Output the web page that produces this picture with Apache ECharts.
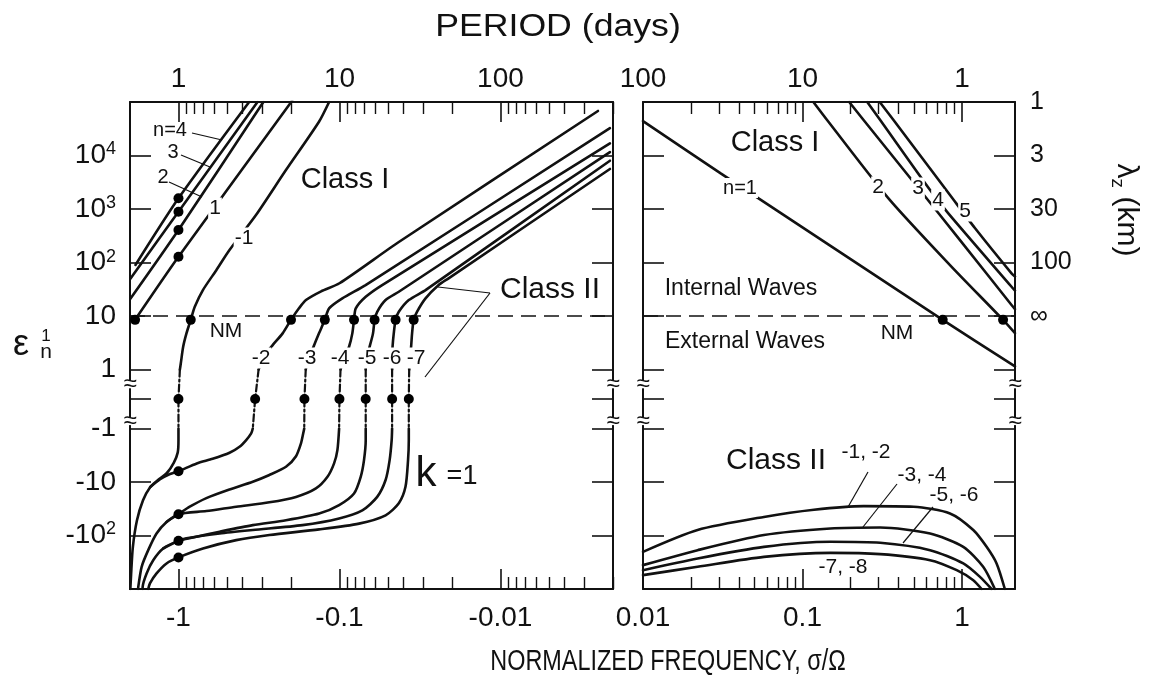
<!DOCTYPE html>
<html>
<head>
<meta charset="utf-8">
<script src="https://cdn.jsdelivr.net/npm/echarts@6.0.0/dist/echarts.min.js"></script>
<style>
  html, body { margin: 0; padding: 0; background: #fff; }
  #chart { width: 1161px; height: 690px; }
</style>
</head>
<body>
<div id="chart"></div>
<script>
// ---------------------------------------------------------------
// Hough-mode eigenvalues eps_n^1 (zonal wavenumber k = 1) against
// normalized frequency sigma/Omega. Points are [sigma/Omega, eps].
// ---------------------------------------------------------------

// axis extents
const negSigmaRange = [-2, -0.002];
const posSigmaRange = [0.01, 2.15];
const epsRange = [-1000, 1e5];
const nmLevel = 10;          // dashed line: internal / external waves
const bandBreaks = [0.5, -0.75];

// tick values and labels
const negDecades = [-1, -0.1, -0.01];
const negDecadeLabels = ['-1', '-0.1', '-0.01'];
const negPeriodLabels = ['1', '10', '100'];
const posDecades = [0.01, 0.1, 1];
const posDecadeLabels = ['0.01', '0.1', '1'];
const posPeriodLabels = ['100', '10', '1'];
const minorMultipliers = [2, 3, 4, 5, 6, 7, 8, 9];
const negMinorDecades = [0.1, 0.01, 0.001];
const posMinorDecades = [0.01, 0.1];
const epsTicks = [1e4, 1e3, 100, 10, 1, 0, -1, -10, -100];
const epsTickLabels = ['10{s|4}', '10{s|3}', '10{s|2}', '10', '1', '', '-1', '-10', '-10{s|2}'];
const lambdaEps = [1e5, 1e4, 1e3, 100, 10];
const lambdaLabels = ['1', '3', '30', '100', '\u221e'];

// ---- negative frequencies: Class I ----
const negN1 = [[-1.86, 8.5], [-1.0, 128], [-0.202, 95000], [-0.19, 130000]];
const negN2 = [[-1.99, 21], [-1.0, 405], [-0.297, 100000]];
const negN3 = [[-1.99, 50], [-1.0, 890], [-0.323, 100000]];
const negN4 = [[-1.85, 90], [-1.0, 1585], [-0.364, 100000]];

// ---- negative frequencies: n = -1 ... -7 (upper part, band through eps = 0, lower part) ----
const negM1Upper = [[-0.98, 1.0], [-0.967, 1.31], [-0.935, 2.67], [-0.892, 4.75], [-0.839, 8.5], [-0.792, 14.9], [-0.705, 30.6], [-0.582, 72], [-0.482, 171], [-0.33, 772], [-0.215, 5350], [-0.134, 42800], [-0.116, 100000]];
const negM1Band = [[-0.98, 1], [-0.99, 0.5], [-1.0, 0], [-1.0, -1]];
const negM1Lower = [[-1.0, -1], [-1.0, -1.65], [-1.01, -2.8], [-1.07, -4.4], [-1.18, -6.8], [-1.34, -9.2], [-1.5, -12.5], [-1.66, -22], [-1.81, -52], [-1.92, -165], [-1.97, -550], [-1.99, -1000]];

const negM2Upper = [[-0.318, 1.0], [-0.286, 2.0], [-0.26, 2.87], [-0.2254, 4.75], [-0.2, 8.5], [-0.178, 14.1], [-0.1615, 19.9], [-0.13, 29], [-0.1, 41], [-0.0428, 242], [-0.00248, 68000]];
const negM2Band = [[-0.318, 1], [-0.334, 0], [-0.3455, -1]];
const negM2Lower = [[-0.3455, -1], [-0.3535, -1.24], [-0.3796, -1.65], [-0.4175, -2.2], [-0.4816, -2.85], [-0.6133, -3.7], [-0.77, -4.5], [-1.0, -6.3], [-1.13, -7.1], [-1.3, -8.9], [-1.5, -12.5]];

const negM3Upper = [[-0.162, 1.0], [-0.1585, 1.32], [-0.1435, 2.87], [-0.134, 4.75], [-0.1233, 8.5], [-0.116, 13.9], [-0.096, 21.4], [-0.0688, 38], [-0.00209, 32400]];
const negM3Band = [[-0.162, 1], [-0.165, 0], [-0.1655, -1]];
const negM3Lower = [[-0.1655, -1], [-0.168, -1.24], [-0.1734, -1.9], [-0.1862, -3.3], [-0.2148, -5.2], [-0.2724, -7.4], [-0.3455, -9.9], [-0.4816, -13.8], [-0.671, -20], [-0.851, -29], [-1.0, -40], [-1.186, -56], [-1.368, -92], [-1.541, -188], [-1.693, -385], [-1.777, -912], [-1.78, -1000]];

const negM4Upper = [[-0.0985, 1.0], [-0.0936, 1.64], [-0.0872, 2.67], [-0.0832, 4.75], [-0.0812, 8.5], [-0.0792, 13.9], [-0.0687, 22.9], [-0.0543, 38], [-0.00209, 16800]];
const negM4Band = [[-0.0985, 1], [-0.1, 0], [-0.1005, -1]];
const negM4Lower = [[-0.1005, -1], [-0.103, -2.54], [-0.108, -4.5], [-0.1187, -8.0], [-0.14, -13.2], [-0.1862, -19], [-0.2724, -24], [-0.4377, -29], [-0.671, -35], [-1.0, -40], [-1.186, -56]];

const negM5Upper = [[-0.0687, 1.0], [-0.0682, 1.64], [-0.065, 2.67], [-0.0619, 4.75], [-0.0605, 8.5], [-0.0583, 12.0], [-0.0517, 19.9], [-0.0428, 28.5], [-0.00209, 11600]];
const negM5Band = [[-0.0687, 1], [-0.0687, 0], [-0.0687, -1]];
const negM5Lower = [[-0.0687, -1], [-0.0687, -1.65], [-0.0704, -3.9], [-0.0738, -8.0], [-0.0812, -16.4], [-0.1005, -27], [-0.1337, -39], [-0.2148, -52], [-0.3455, -64], [-0.555, -85], [-0.812, -109], [-1.0, -126], [-1.245, -175], [-1.435, -290], [-1.577, -512], [-1.669, -912], [-1.67, -1000]];

const negM6Upper = [[-0.0471, 1.0], [-0.0471, 1.64], [-0.0468, 2.67], [-0.046, 4.75], [-0.0448, 8.5], [-0.0428, 12.0], [-0.0371, 19.9], [-0.0292, 30.6], [-0.00209, 8000]];
const negM6Band = [[-0.0471, 1], [-0.0471, 0], [-0.0471, -1]];
const negM6Lower = [[-0.0471, -1], [-0.0474, -1.65], [-0.0488, -3.9], [-0.0517, -9.2], [-0.0583, -19], [-0.0721, -34], [-0.1005, -48], [-0.1696, -64], [-0.3455, -79], [-0.555, -92], [-0.892, -113], [-1.0, -126], [-1.245, -175]];

const negM7Upper = [[-0.0369, 1.0], [-0.0366, 1.64], [-0.0359, 2.67], [-0.0354, 4.75], [-0.0346, 8.5], [-0.033, 12.0], [-0.0292, 21.4], [-0.0242, 38], [-0.021, 50.7], [-0.00209, 5600]];
const negM7Band = [[-0.0369, 1], [-0.0371, 0], [-0.0371, -1]];
const negM7Lower = [[-0.0371, -1], [-0.0371, -1.65], [-0.0375, -3.9], [-0.0389, -12.3], [-0.0428, -25], [-0.0517, -42], [-0.0756, -60], [-0.1337, -77], [-0.2724, -98], [-0.4377, -122], [-0.7043, -175], [-1.0, -257], [-1.186, -333], [-1.368, -512], [-1.504, -787], [-1.541, -1000]];

// ---- positive frequencies: Class I ----
const posN1 = [[0.01, 44000], [0.0307, 4650], [0.757, 8.5], [2.15, 1.15]];
const posN2 = [[0.117, 100000], [0.1426, 46100], [0.346, 1585], [0.841, 89.8], [1.81, 8.5], [2.15, 4.8]];
const posN3 = [[0.1964, 100000], [0.2415, 46100], [0.508, 2930], [0.9716, 263], [2.045, 16.1], [2.15, 13.5]];
const posN4 = [[0.2547, 100000], [0.307, 46100], [0.631, 2265], [0.821, 831], [2.045, 35.3], [2.15, 30]];
const posN5 = [[0.305, 100000], [0.372, 46100], [0.841, 1828], [1.205, 441], [2.045, 62.8], [2.15, 54.7]];

// ---- positive frequencies: Class II pairs ----
const posM12 = [[0.01, -202], [0.022, -79], [0.0573, -45], [0.118, -33], [0.242, -28.3], [0.497, -29.1], [0.841, -38.7], [1.177, -79], [1.427, -163], [1.648, -333], [1.857, -1000]];
const posM34 = [[0.01, -358], [0.022, -188], [0.0573, -98], [0.1496, -74], [0.307, -71], [0.631, -92], [1.019, -163], [1.358, -385], [1.607, -1000]];
const posM56 = [[0.01, -445], [0.022, -269], [0.0573, -163], [0.1496, -131], [0.307, -137], [0.631, -188], [1.019, -333], [1.296, -593], [1.533, -1000]];
const posM78 = [[0.01, -551], [0.022, -385], [0.0573, -251], [0.1496, -211], [0.307, -223], [0.631, -289], [0.927, -445], [1.177, -684], [1.327, -1000]];

// ---- marked points ----
const negDotsNM = [[-1.86, 8.5], [-0.839, 8.5], [-0.2, 8.5], [-0.1233, 8.5], [-0.0812, 8.5], [-0.0605, 8.5], [-0.0448, 8.5], [-0.0346, 8.5]];
const negDotsZero = [[-1.0, 0], [-0.334, 0], [-0.165, 0], [-0.1, 0], [-0.0687, 0], [-0.0471, 0], [-0.0371, 0]];
const negDotsDiurnal = [[-1, 1585], [-1, 890], [-1, 405], [-1, 128], [-1, -6.3], [-1, -40], [-1, -126], [-1, -257]];
const posDotsNM = [[0.757, 8.5], [1.81, 8.5]];

// ---------------------------------------------------------------
// scale helpers: log |sigma| horizontally; vertically log eps above 1,
// log |eps| below -1, and a linear band for -1 < eps < 1.
// ---------------------------------------------------------------
const GAP = 1.1;
const tY = e => e >= 1 ? Math.log10(e) : (e <= -1 ? -GAP - Math.log10(-e) : GAP / 2 * (e - 1));
const tX = s => Math.log10(Math.abs(s));
const pts = arr => arr.map(p => [tX(p[0]), tY(p[1])]);

const INK = '#111';
const FONT = '"Liberation Sans", Arial, Helvetica, sans-serif';
const DASHDOT = [7, 3, 2, 3];

const negLogMin = tX(negSigmaRange[1]), negLogMax = tX(negSigmaRange[0]);
const posLogMin = tX(posSigmaRange[0]), posLogMax = tX(posSigmaRange[1]);
const yMin = tY(epsRange[0]), yMax = tY(epsRange[1]);

const negMinor = [];
negMinorDecades.forEach(d => minorMultipliers.forEach(m => negMinor.push(tX(m * d))));
const posMinor = [];
posMinorDecades.forEach(d => minorMultipliers.forEach(m => posMinor.push(tX(m * d))));

const key = v => v.toFixed(3);
function lookup(values, labels, xform) {
  const map = {};
  values.forEach((v, i) => { map[key(xform(v))] = labels[i]; });
  return v => (map[key(v)] !== undefined ? map[key(v)] : '');
}

const labelFont = { fontFamily: FONT, color: INK, fontSize: 28 };
const supRich = { s: { fontSize: 18, verticalAlign: 'top', fontFamily: FONT, color: INK, padding: [0, 0, 12, 0] } };

function xAxisPair(grid, min, max, inverse, decades, decadeLabels, periodLabels, minor) {
  const majors = decades.map(tX);
  const base = { type: 'value', gridIndex: grid, min, max, inverse, splitLine: { show: false } };
  return [
    Object.assign({}, base, {
      position: 'bottom',
      axisLine: { show: true, onZero: false, lineStyle: { color: INK, width: 2 } },
      axisTick: { inside: true, length: 20, customValues: majors, lineStyle: { color: INK, width: 1.6 } },
      axisLabel: Object.assign({ customValues: majors, margin: 15, formatter: lookup(decades, decadeLabels, tX) }, labelFont)
    }),
    Object.assign({}, base, {
      position: 'bottom',
      axisLine: { show: false, onZero: false },
      axisTick: { inside: true, length: 12, customValues: minor, lineStyle: { color: INK, width: 1.4 } },
      axisLabel: { show: false }
    }),
    Object.assign({}, base, {
      position: 'top',
      axisLine: { show: true, onZero: false, lineStyle: { color: INK, width: 2 } },
      axisTick: { inside: true, length: 20, customValues: majors, lineStyle: { color: INK, width: 1.6 } },
      axisLabel: Object.assign({ customValues: majors, margin: 9, formatter: lookup(decades, periodLabels, tX) }, labelFont)
    }),
    Object.assign({}, base, {
      position: 'top',
      axisLine: { show: false, onZero: false },
      axisTick: { inside: true, length: 12, customValues: minor, lineStyle: { color: INK, width: 1.4 } },
      axisLabel: { show: false }
    })
  ];
}

const yTickVals = epsTicks.map(tY);
function yAxis(grid, position, labels) {
  const ax = {
    type: 'value', gridIndex: grid, position, min: yMin, max: yMax,
    splitLine: { show: false },
    axisLine: { show: true, onZero: false, lineStyle: { color: INK, width: 2 } },
    axisTick: { inside: true, length: 21, customValues: yTickVals, lineStyle: { color: INK, width: 1.6 } },
    axisLabel: { show: false }
  };
  if (labels === 'eps') {
    ax.axisLabel = Object.assign({ show: true, customValues: yTickVals.filter((v, i) => epsTickLabels[i] !== ''), margin: 14,
      formatter: lookup(epsTicks, epsTickLabels, tY), rich: supRich }, labelFont);
  } else if (labels === 'lambda') {
    ax.axisLabel = Object.assign({ show: true, customValues: lambdaEps.map(tY), margin: 15,
      formatter: lookup(lambdaEps, lambdaLabels, tY) }, labelFont, { fontSize: 25 });
  }
  return ax;
}

// series builders
function curve(arr, panel, dashed) {
  return {
    type: 'line', xAxisIndex: panel === 0 ? 0 : 4, yAxisIndex: panel === 0 ? 0 : 2,
    data: pts(arr), symbol: 'none', smooth: dashed ? false : 0.25, clip: true, silent: true,
    lineStyle: { color: INK, width: dashed ? 2.2 : 2.6, type: dashed ? DASHDOT : 'solid', cap: 'round' },
    z: 3
  };
}
function dots(arr, panel) {
  return {
    type: 'scatter', xAxisIndex: panel === 0 ? 0 : 4, yAxisIndex: panel === 0 ? 0 : 2,
    data: pts(arr), symbol: 'circle', symbolSize: 10, clip: false, silent: true,
    itemStyle: { color: '#000', opacity: 1 }, z: 6
  };
}

const series = [];
[negN1, negN2, negN3, negN4].forEach(c => series.push(curve(c, 0)));
[[negM1Upper, negM1Band, negM1Lower], [negM2Upper, negM2Band, negM2Lower], [negM3Upper, negM3Band, negM3Lower],
 [negM4Upper, negM4Band, negM4Lower], [negM5Upper, negM5Band, negM5Lower], [negM6Upper, negM6Band, negM6Lower],
 [negM7Upper, negM7Band, negM7Lower]].forEach(([u, b, l]) => {
  series.push(curve(u, 0)); series.push(curve(b, 0, true)); series.push(curve(l, 0));
});
[posN1, posN2, posN3, posN4, posN5, posM12, posM34, posM56, posM78].forEach(c => series.push(curve(c, 1)));

// internal / external wave boundary
[[negSigmaRange, 0], [posSigmaRange, 1]].forEach(([r, panel]) => {
  series.push({
    type: 'line', xAxisIndex: panel === 0 ? 0 : 4, yAxisIndex: panel === 0 ? 0 : 2,
    data: pts([[r[0], nmLevel], [r[1], nmLevel]]), symbol: 'none', silent: true,
    lineStyle: { color: INK, width: 1.6, type: [15, 8] }, z: 2
  });
});

series.push(dots(negDotsNM, 0), dots(negDotsZero, 0), dots(negDotsDiurnal, 0), dots(posDotsNM, 1));

// axis-break marks on every vertical frame line
[[negSigmaRange, 0], [posSigmaRange, 1]].forEach(([r, panel]) => {
  const d = [];
  r.forEach(s => bandBreaks.forEach(e => d.push([s, e])));
  series.push({
    type: 'scatter', xAxisIndex: panel === 0 ? 0 : 4, yAxisIndex: panel === 0 ? 0 : 2,
    data: pts(d), symbol: 'rect', symbolSize: [6, 8], clip: false, silent: true,
    itemStyle: { color: '#fff', opacity: 1 },
    label: { show: true, position: 'inside', formatter: '\u2248', fontSize: 24, fontFamily: FONT, color: INK },
    z: 7
  });
});

// ---------------------------------------------------------------
// text annotations
// ---------------------------------------------------------------
const graphics = [];
function txt(text, x, y, size, bg, sx) {
  graphics.push({
    type: 'text', x, y, z: 100, silent: true, scaleX: sx || 1,
    style: {
      text, fontSize: size, fontFamily: FONT, fill: INK,
      align: 'center', verticalAlign: 'middle', textAlign: 'center', textVerticalAlign: 'middle',
      backgroundColor: bg ? '#fff' : undefined, padding: bg ? [0, 1] : 0
    }
  });
}
function leader(x1, y1, x2, y2) {
  graphics.push({ type: 'line', z: 100, silent: true, shape: { x1, y1, x2, y2 }, style: { stroke: INK, lineWidth: 1.2 } });
}

txt('PERIOD (days)', 558, 27, 31, false, 1.15);
txt('NORMALIZED FREQUENCY, \u03c3/\u03a9', 668, 662, 30, false, 0.78);

// left panel
txt('n=4', 170, 130, 20); leader(192, 133, 222, 140);
txt('3', 173, 152, 20); leader(181, 155, 210, 167);
txt('2', 163, 177, 20); leader(169, 182, 202, 197);
txt('1', 215, 208, 21, true);
txt('-1', 244, 238, 21, true);
txt('Class I', 345, 180, 29);
txt('NM', 226, 331, 21);
[['-2', 261], ['-3', 307], ['-4', 340], ['-5', 367], ['-6', 392], ['-7', 416]].forEach(([t, x]) => txt(t, x, 358, 21, true));
txt('Class II', 550, 290, 30); leader(490, 293, 438, 287); leader(490, 293, 425, 377);
txt('k', 426, 474, 42);
txt('=1', 462, 477, 27);

// right panel
txt('Class I', 775, 143, 29);
txt('n=1', 740, 188, 20, true);
txt('2', 878, 187, 21, true);
txt('3', 918, 188, 21, true);
txt('4', 938, 200, 21, true);
txt('5', 965, 211, 21, true);
txt('Internal Waves', 741, 289, 23);
txt('External Waves', 745, 342, 23);
txt('NM', 897, 333, 21);
txt('Class II', 776, 461, 30);
txt('-1, -2', 866, 452, 21); leader(868, 472, 848, 507);
txt('-3, -4', 922, 475, 21); leader(897, 484, 863, 527);
txt('-5, -6', 954, 495, 21); leader(933, 507, 903, 543);
txt('-7, -8', 843, 567, 21);

// axis titles
txt('\u03b5', 21, 345, 36);
txt('1', 46, 336, 17);
txt('n', 46, 352, 21);
graphics.push({
  type: 'text', x: 1126, y: 210, rotation: -Math.PI / 2, z: 100, silent: true,
  style: {
    text: '{a|\u03bb}{b|z}{a| (km)}', fontFamily: FONT, fill: INK,
    align: 'center', verticalAlign: 'middle', textAlign: 'center', textVerticalAlign: 'middle',
    rich: {
      a: { fontSize: 30, fontFamily: FONT, fill: INK, lineHeight: 36, verticalAlign: 'middle' },
      b: { fontSize: 19, fontFamily: FONT, fill: INK, lineHeight: 36, verticalAlign: 'bottom' }
    }
  }
});

const option = {
  animation: false,
  backgroundColor: '#fff',
  textStyle: { fontFamily: FONT, color: INK },
  grid: [
    { left: 130, top: 102, width: 483, height: 487 },
    { left: 643, top: 102, width: 372, height: 487 }
  ],
  xAxis: [
    ...xAxisPair(0, negLogMin, negLogMax, true, negDecades, negDecadeLabels, negPeriodLabels, negMinor),
    ...xAxisPair(1, posLogMin, posLogMax, false, posDecades, posDecadeLabels, posPeriodLabels, posMinor)
  ],
  yAxis: [
    yAxis(0, 'left', 'eps'),
    yAxis(0, 'right', null),
    yAxis(1, 'left', null),
    yAxis(1, 'right', 'lambda')
  ],
  series,
  graphic: graphics
};

const chart = echarts.init(document.getElementById('chart'), null, { renderer: 'canvas' });
chart.setOption(option);
</script>
</body>
</html>
